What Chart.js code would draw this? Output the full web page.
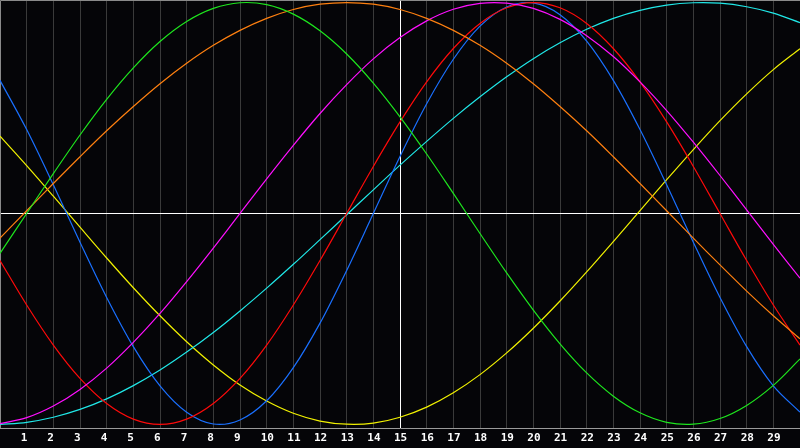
<!DOCTYPE html>
<html>
<head>
<meta charset="utf-8">
<script src="https://cdn.jsdelivr.net/npm/chart.js@4/dist/chart.umd.min.js"></script>
<style>
html,body{margin:0;padding:0;background:#050508;}
#wrap{width:800px;height:448px;position:relative;}
</style>
</head>
<body>
<div id="wrap"><canvas id="c"></canvas></div>
<script>
const xs = [0,1,2,3,4,5,6,7,8,9,10,11,12,13,14,15,16,17,18,19,20,21,22,23,24,25,26,27,28,29,30];
const xTickValues = [1,2,3,4,5,6,7,8,9,10,11,12,13,14,15,16,17,18,19,20,21,22,23,24,25,26,27,28,29];
const xTickLabels = ['1','2','3','4','5','6','7','8','9','10','11','12','13','14','15','16','17','18','19','20','21','22','23','24','25','26','27','28','29'];

const green   = [-0.189,0.000,0.189,0.372,0.541,0.690,0.815,0.910,0.972,0.999,0.990,0.945,0.866,0.756,0.618,0.458,0.282,0.095,-0.095,-0.282,-0.458,-0.618,-0.756,-0.866,-0.945,-0.990,-0.999,-0.972,-0.910,-0.815,-0.690];
const orange  = [-0.117,0.013,0.142,0.269,0.392,0.507,0.615,0.712,0.797,0.868,0.925,0.967,0.992,1.000,0.992,0.967,0.925,0.868,0.797,0.712,0.615,0.507,0.392,0.269,0.142,0.013,-0.117,-0.244,-0.368,-0.485,-0.594];
const magenta = [-0.996,-0.968,-0.913,-0.834,-0.733,-0.611,-0.474,-0.323,-0.164,0.000,0.164,0.323,0.474,0.611,0.733,0.834,0.913,0.968,0.996,0.997,0.972,0.920,0.843,0.744,0.624,0.488,0.338,0.180,0.017,-0.147,-0.307];
const red     = [-0.223,-0.434,-0.624,-0.782,-0.901,-0.975,-1.000,-0.975,-0.901,-0.782,-0.624,-0.434,-0.223,0.000,0.223,0.434,0.624,0.782,0.901,0.975,1.000,0.975,0.901,0.782,0.624,0.434,0.223,0.000,-0.223,-0.434,-0.624];
const blue    = [0.631,0.398,0.136,-0.136,-0.398,-0.631,-0.817,-0.942,-0.998,-0.979,-0.888,-0.731,-0.520,-0.270,0.000,0.270,0.520,0.731,0.888,0.979,0.998,0.942,0.817,0.631,0.398,0.136,-0.136,-0.398,-0.631,-0.817,-0.942];
const cyan    = [-1.000,-0.990,-0.966,-0.929,-0.879,-0.816,-0.742,-0.657,-0.564,-0.462,-0.354,-0.241,-0.124,-0.006,0.112,0.229,0.342,0.451,0.553,0.648,0.734,0.809,0.873,0.925,0.963,0.988,0.999,0.997,0.980,0.950,0.905];
const yellow  = [0.367,0.227,0.082,-0.065,-0.211,-0.352,-0.485,-0.608,-0.718,-0.813,-0.889,-0.947,-0.984,-0.999,-0.994,-0.966,-0.918,-0.850,-0.764,-0.661,-0.544,-0.415,-0.277,-0.133,0.014,0.160,0.303,0.440,0.567,0.682,0.781];

const crossX = 15;
const crossY = 0;

const seriesList = [
  {name:'green', values:green, color:'#1ee61e'},
  {name:'orange', values:orange, color:'#ff8010'},
  {name:'magenta', values:magenta, color:'#ff10ff'},
  {name:'red', values:red, color:'#ff0a0a'},
  {name:'blue', values:blue, color:'#1a70ff'},
  {name:'cyan', values:cyan, color:'#20e8e8'},
  {name:'yellow', values:yellow, color:'#f2f200'}
];

const bgPlugin = {
  id:'bg',
  beforeDraw(chart){
    const c = chart.ctx;
    c.save();
    c.fillStyle = '#050508';
    c.fillRect(0,0,chart.width,chart.height);
    c.restore();
  },
  beforeDatasetsDraw(chart){
    const c = chart.ctx, a = chart.chartArea;
    const sx = chart.scales.x, sy = chart.scales.y;
    const px = Math.round(sx.getPixelForValue(crossX)) + 0.5;
    const py = Math.round(sy.getPixelForValue(crossY)) + 0.5;
    c.save();
    c.strokeStyle = '#ffffff';
    c.lineWidth = 1;
    c.beginPath();
    c.moveTo(px, a.top); c.lineTo(px, a.bottom);
    c.moveTo(a.left, py); c.lineTo(a.right, py);
    c.stroke();
    c.strokeStyle = '#8a8a8a';
    c.beginPath();
    c.moveTo(a.left + 0.5, a.bottom); c.lineTo(a.left + 0.5, a.top + 0.5); c.lineTo(a.right, a.top + 0.5);
    c.stroke();
    c.restore();
  }
};

new Chart(document.getElementById('c'), {
  type:'line',
  data:{
    datasets: seriesList.map(s => ({
      label: s.name,
      data: xs.map((x,i) => ({x:x, y:s.values[i]})),
      borderColor: s.color,
      borderWidth: 1.2,
      pointRadius: 0,
      fill: false,
      tension: 0.33
    }))
  },
  options:{
    responsive:true,
    maintainAspectRatio:false,
    animation:false,
    devicePixelRatio:1,
    layout:{padding:0},
    plugins:{legend:{display:false}, tooltip:{enabled:false}},
    scales:{
      x:{
        type:'linear',
        min:0, max:30,
        afterBuildTicks: s => { s.ticks = xTickValues.map(v => ({value:v})); },
        afterFit: s => { s.height = 20; },
        grid:{color:'#3a3a3a', lineWidth:1, drawTicks:false},
        border:{color:'#9a9a9a', width:1},
        ticks:{
          color:'#ffffff',
          font:{family:'"DejaVu Sans Mono", monospace', size:11, weight:'bold'},
          padding:4,
          align:'start',
          labelOffset:-6,
          maxRotation:0,
          autoSkip:false,
          callback: (v) => { const i = xTickValues.indexOf(v); return i >= 0 ? xTickLabels[i] : ''; }
        }
      },
      y:{
        display:false,
        min:-1.017, max:1.012
      }
    }
  },
  plugins:[bgPlugin]
});
</script>
</body>
</html>
